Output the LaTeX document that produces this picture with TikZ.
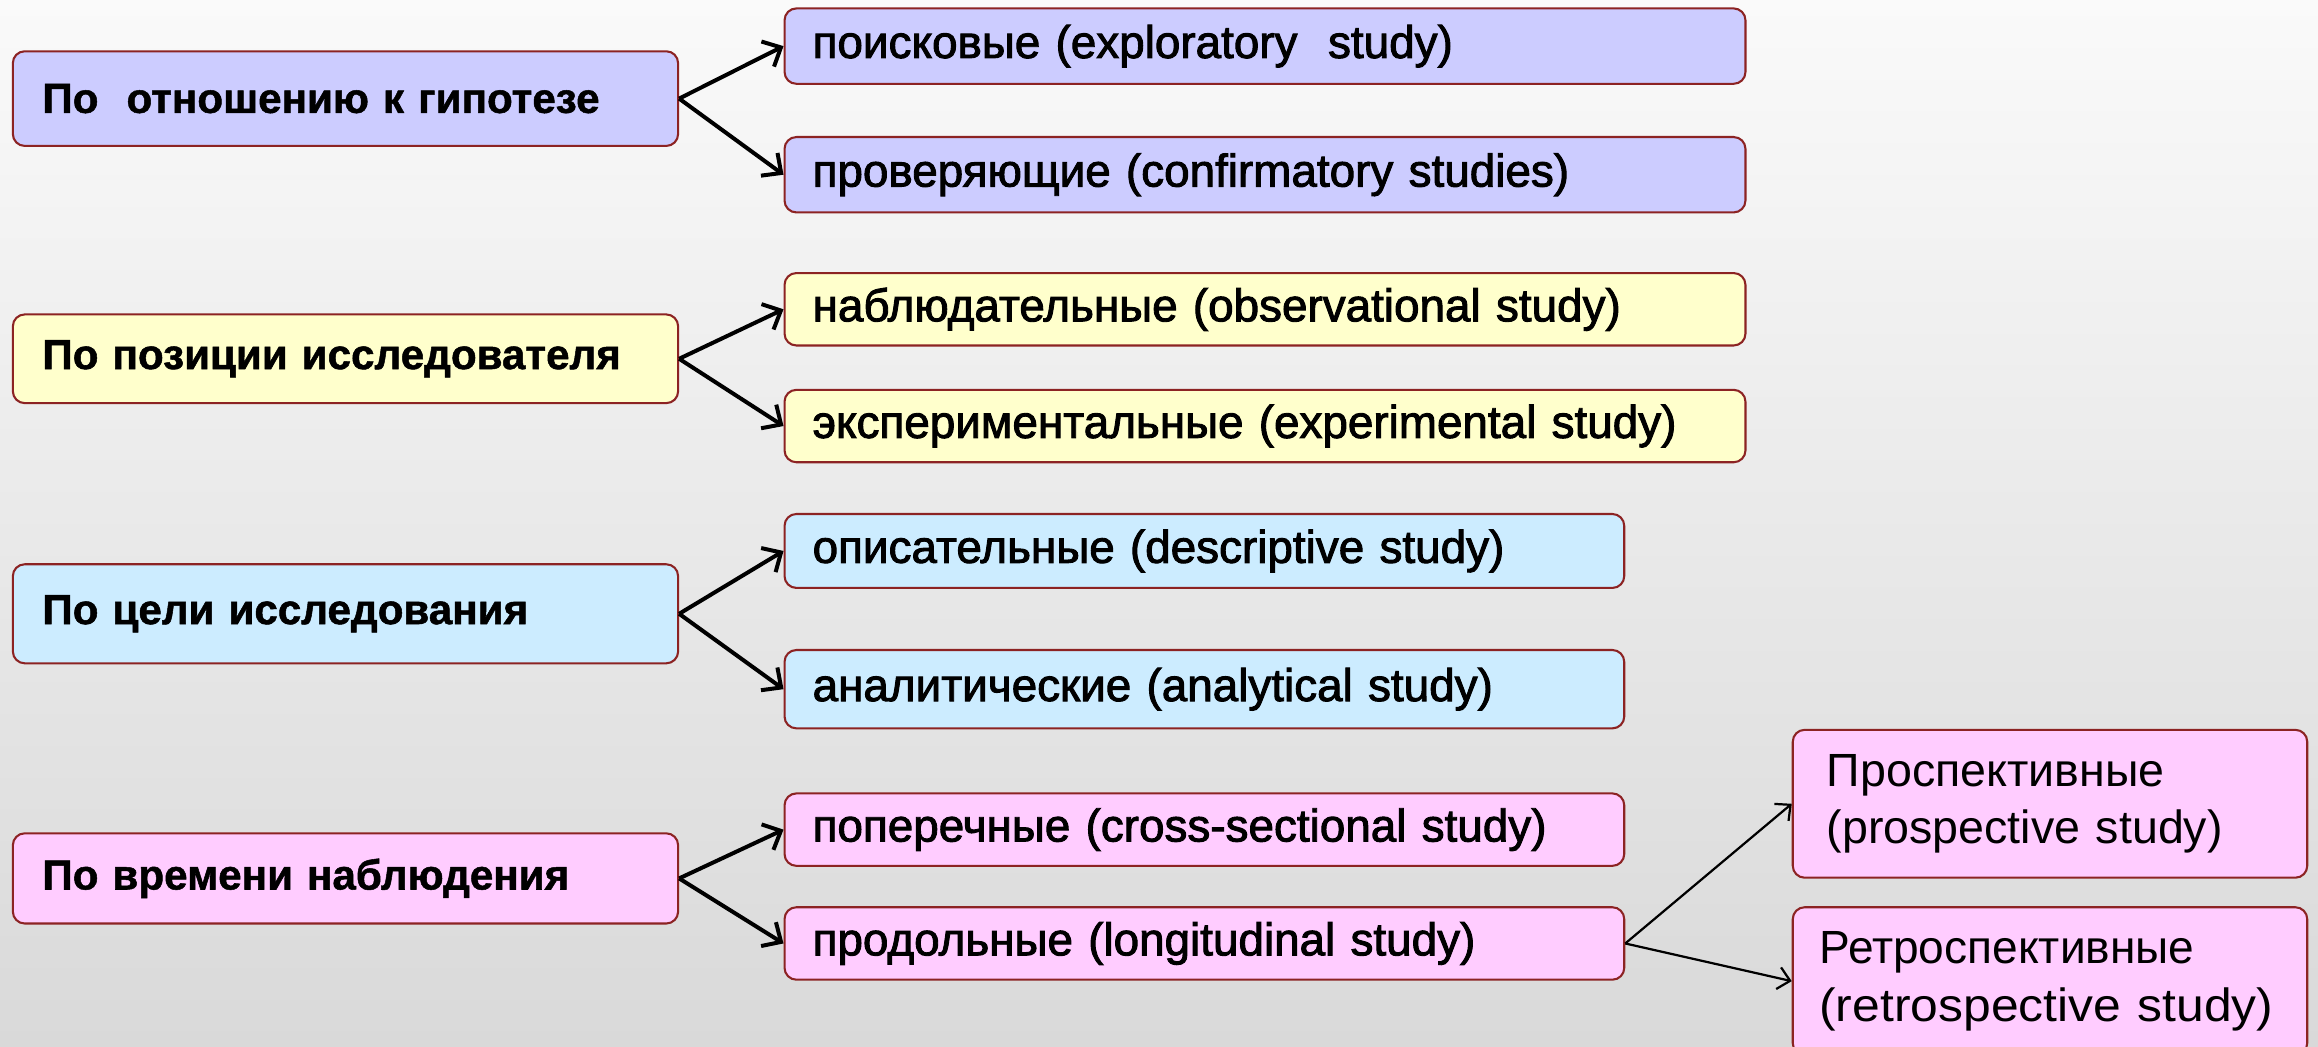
\documentclass[tikz,border=0pt]{standalone}
\usepackage{fontspec}
\setmainfont{Liberation Sans}
\newfontfamily\rfont{Liberation Sans}[FakeBold=2]
\newfontfamily\lfont{Liberation Sans}[BoldFeatures={FakeBold=1.2}]
\usetikzlibrary{arrows.meta}
\definecolor{brd}{RGB}{140,35,35}
\definecolor{cLav}{RGB}{204,204,255}
\definecolor{cYel}{RGB}{255,255,204}
\definecolor{cBlu}{RGB}{204,236,255}
\definecolor{cPnk}{RGB}{255,204,255}
\definecolor{bgtop}{RGB}{250,250,250}
\definecolor{bgbot}{RGB}{217,217,217}
\begin{document}
\begin{tikzpicture}[x=1pt,y=1pt,
  boxbase/.style={draw=brd, line width=1.4pt, rounded corners=8pt, anchor=north west, inner ysep=0pt, align=left},
  lbox/.style={boxbase, inner xsep=20pt, text width=410pt, font=\lfont\fontsize{28.5}{34}\selectfont\bfseries},
  rbox/.style={boxbase, inner xsep=19pt, text width=#1, font=\rfont\fontsize{31}{37}\selectfont},
  fbox/.style={boxbase, inner xsep=21pt, text width=306pt, minimum height=100pt, font=\fontsize{31.5}{39}\selectfont},
  arr/.style={line width=2.7pt, -{Straight Barb[length=10pt,width=19pt]}},
  arrthin/.style={line width=1.5pt, -{Straight Barb[length=8pt,width=15pt]}}
]
\useasboundingbox (0,0) rectangle (1568,-708);
\shade[top color=bgtop, bottom color=bgbot] (0,0) rectangle (1568,-708);

% left column
\node[lbox, fill=cLav, minimum height=64pt] (L1) at (8,-34) {По\ \ отношению к гипотезе};
\node[lbox, fill=cYel, minimum height=60pt] (L2) at (8,-212) {По позиции исследователя};
\node[lbox, fill=cBlu, minimum height=67pt] (L3) at (8,-381) {По цели исследования};
\node[lbox, fill=cPnk, minimum height=61pt] (L4) at (8,-563) {По времени наблюдения};

% middle column
\node[rbox=612pt, fill=cLav, minimum height=51pt] (R1a) at (530,-5) {поисковые (exploratory\ \ study)};
\node[rbox=612pt, fill=cLav, minimum height=51pt] (R1b) at (530,-92) {проверяющие (confirmatory studies)};
\node[rbox=612pt, fill=cYel, minimum height=49pt] (R2a) at (530,-184) {наблюдательные (observational study)};
\node[rbox=612pt, fill=cYel, minimum height=49pt] (R2b) at (530,-263) {экспериментальные (experimental study)};
\node[rbox=530pt, fill=cBlu, minimum height=50pt] (R3a) at (530,-347) {описательные (descriptive study)};
\node[rbox=530pt, fill=cBlu, minimum height=53pt] (R3b) at (530,-439) {аналитические (analytical study)};
\node[rbox=530pt, fill=cPnk, minimum height=49pt] (R4a) at (530,-536) {поперечные (cross-sectional study)};
\node[rbox=530pt, fill=cPnk, minimum height=49pt] (R4b) at (530,-613) {продольные (longitudinal study)};

% right column
\node[fbox, fill=cPnk, inner xsep=23pt, text width=302pt] (F1) at (1212,-493) {Проспективные\\(prospective study)};
\node[fbox, fill=cPnk, inner xsep=18pt, text width=312pt] (F2) at (1212,-613) {\scalebox{0.99}[1]{Ретроспективные}\\\scalebox{1.07}[1]{(retrospective study)}};

% connectors
\draw[arr] (L1.east) -- (R1a.west);
\draw[arr] (L1.east) -- (R1b.west);
\draw[arr] (L2.east) -- (R2a.west);
\draw[arr] (L2.east) -- (R2b.west);
\draw[arr] (L3.east) -- (R3a.west);
\draw[arr] (L3.east) -- (R3b.west);
\draw[arr] (L4.east) -- (R4a.west);
\draw[arr] (L4.east) -- (R4b.west);
\draw[arrthin] (R4b.east) -- (F1.west);
\draw[arrthin] (R4b.east) -- (F2.west);
\end{tikzpicture}
\end{document}
